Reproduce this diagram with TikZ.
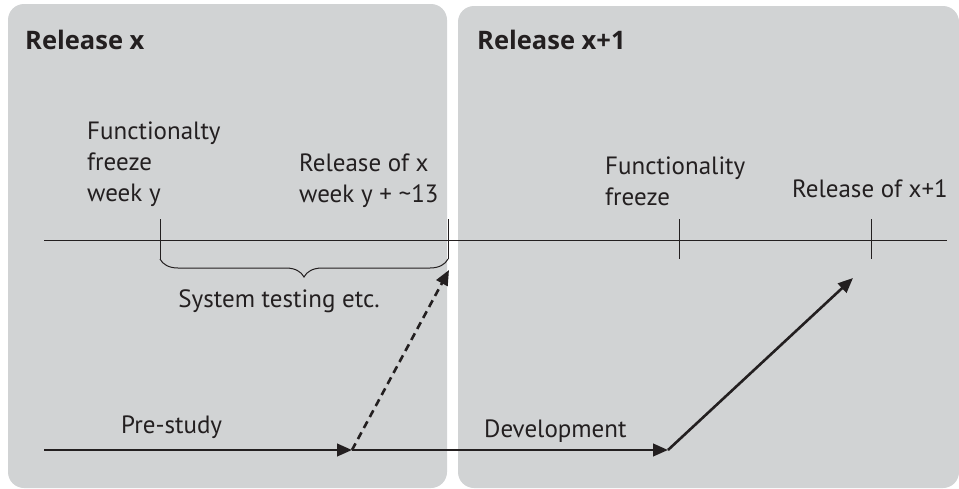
\documentclass[tikz,border=0pt]{standalone}
\usepackage{fontspec}
\setmainfont{PT Sans}
\newfontfamily\headfont{Open Sans}
\usetikzlibrary{arrows.meta,decorations.pathreplacing}
\definecolor{panelgray}{RGB}{209,211,212}
\definecolor{ink}{RGB}{35,31,32}
\begin{document}
\begin{tikzpicture}[x=1pt,y=-1pt,
  panel/.style={fill=panelgray,draw=none,rounded corners=16pt},
  title/.style={anchor=base west,inner sep=0pt,font=\headfont\fontsize{25.5}{30}\selectfont\bfseries,text=ink},
  lbl/.style={anchor=base west,inner sep=0pt,align=left,font=\fontsize{25}{31}\selectfont,text=ink},
  axis/.style={draw=ink,line width=1pt},
  flow/.style={draw=ink,line width=2.6pt,-{Triangle[length=15pt,width=12.5pt]}},
  flowdash/.style={flow,dash pattern=on 7.5pt off 5pt}]
\useasboundingbox (0,0) rectangle (959,488);

% the two release panels
\fill[panel] (8,4) rectangle (447,488);
\fill[panel] (458,6) rectangle (959,488);

% panel titles
\node[title] (tx)  at (25,49)  {Release x};
\node[title] (tx1) at (477,49) {Release x+1};

% milestone labels (anchored at the baseline of their last line)
\node[lbl] (ff)  at (87,201)  {Functionalty\\freeze\\week y};
\node[lbl] (rox) at (299,202) {Release of x\\week y + \textasciitilde13};
\node[lbl] (ff1) at (605,205) {Functionality\\freeze};
\node[lbl] (rx1l) at (792,197) {Release of x+1};

% timeline with its milestone ticks
\coordinate (tl0) at (44,240);
\coordinate (tl1) at (947,240);
\draw[axis] (tl0) -- (tl1);
\foreach \n/\x in {a/160,b/448,c/679,d/871}{
  \coordinate (top-\n) at (\x,219);
  \coordinate (bot-\n) at (\x,259);
  \draw[axis] (top-\n) -- (bot-\n);
}

% system test interval
\draw[draw=ink,line width=1pt,decorate,
      decoration={brace,mirror,amplitude=18pt}]
  (bot-a) -- (bot-b);
\node[lbl,anchor=base] (st) at (279,307) {System testing etc.};

% work flow
\coordinate (ps)  at (44,450);
\coordinate (mid) at (352,450);
\coordinate (dev) at (668,450);
\coordinate (rx)  at (449,270);
\coordinate (rxx) at (853,278);
\draw[flow] (ps) -- (mid);
\draw[flow] (mid) -- (dev);
\draw[flow] (dev) -- (rxx);
\draw[flowdash] (mid) -- (rx);

\node[lbl] (pre) at (121,433) {Pre-study};
\node[lbl] (dl)  at (484,437) {Development};
\end{tikzpicture}
\end{document}
